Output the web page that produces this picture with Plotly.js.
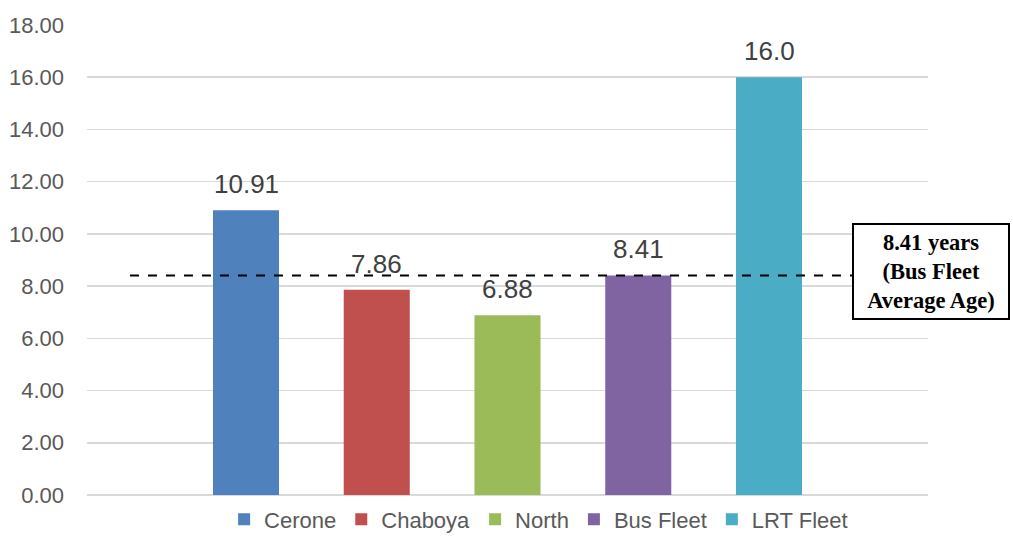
<!DOCTYPE html>
<html>
<head>
<meta charset="utf-8">
<script src="https://cdn.plot.ly/plotly-3.0.1.min.js"></script>
<style>html,body{margin:0;padding:0;background:#fff;}#chart{width:1013px;height:536px;}</style>
</head>
<body>
<div id="chart"></div>
<script>
const categories = ["Cerone", "Chaboya", "North", "Bus Fleet", "LRT Fleet"];
const values = [10.91, 7.86, 6.88, 8.41, 16.0];
const valueLabels = ["10.91", "7.86", "6.88", "8.41", "16.0"];
const colors = ["#4f81bd", "#c0504d", "#9bbb59", "#8064a2", "#4bacc6"];
const busFleetAverage = 8.41;
const averageLabel = "8.41 years<br>(Bus Fleet<br>Average Age)";
const yTicks = [0, 2, 4, 6, 8, 10, 12, 14, 16, 18];

const traces = categories.map((c, i) => ({
  type: "bar",
  name: c,
  x: [i],
  y: [values[i]],
  width: 0.505,
  marker: { color: colors[i] },
  hoverinfo: "name+y"
}));

const annotations = categories.map((c, i) => ({
  x: i, y: values[i], xref: "x", yref: "y",
  text: valueLabels[i], showarrow: false,
  yanchor: "bottom", yshift: 9,
  font: { family: "Liberation Sans, Arial, sans-serif", size: 26, color: "#404040" }
}));

annotations.push({
  xref: "paper", yref: "paper",
  x: 1.0036, y: 0.4755, xanchor: "center", yanchor: "middle",
  text: averageLabel, showarrow: false, align: "center",
  width: 154, height: 93,
  bordercolor: "#000000", borderwidth: 2, bgcolor: "#ffffff", borderpad: 0,
  font: { family: "Liberation Serif, Times New Roman, serif", size: 22.5, color: "#000000", weight: "bold" }
});

const layout = {
  width: 1013, height: 536,
  margin: { l: 87, r: 85, t: 25, b: 41, autoexpand: false },
  paper_bgcolor: "#ffffff", plot_bgcolor: "#ffffff",
  barmode: "overlay",
  showlegend: true,
  legend: {
    orientation: "h", x: 0.537, xanchor: "center", y: -0.052, yanchor: "middle",
    font: { family: "Liberation Sans, Arial, sans-serif", size: 22, color: "#595959" },
    itemclick: false, itemdoubleclick: false, traceorder: "normal"
  },
  xaxis: {
    range: [-1.216, 5.216], showgrid: false, zeroline: false,
    showticklabels: false, showline: false, fixedrange: true
  },
  yaxis: {
    range: [0, 18], tickvals: yTicks, tickformat: ".2f",
    showgrid: true, gridcolor: "#d9d9d9", gridwidth: 1.5,
    zeroline: true, zerolinecolor: "#d9d9d9", zerolinewidth: 1.5,
    showline: false, ticks: "", ticklabelstandoff: 22,
    tickfont: { family: "Liberation Sans, Arial, sans-serif", size: 22, color: "#595959" },
    fixedrange: true
  },
  shapes: [{
    type: "line", xref: "paper", yref: "y",
    x0: 0.0511, x1: 0.9096, y0: busFleetAverage, y1: busFleetAverage,
    line: { color: "#000000", width: 2, dash: "dash" }
  }],
  annotations: annotations
};

Plotly.newPlot("chart", traces, layout, { displayModeBar: false, staticPlot: true });
</script>
</body>
</html>
